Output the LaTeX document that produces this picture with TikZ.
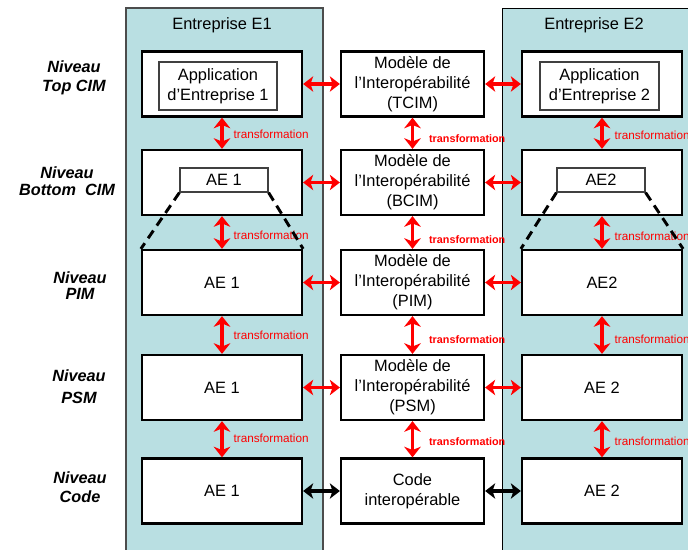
\documentclass[tikz,border=0pt]{standalone}
\usepackage{fontspec}
\setmainfont{Liberation Sans}
\usetikzlibrary{arrows.meta}
\definecolor{panel}{HTML}{B9DFE2}
\definecolor{tred}{HTML}{FF0000}
\begin{document}
\begin{tikzpicture}[x=0.75pt,y=-0.75pt,
  box/.style={draw=black, line width=1.7pt, fill=white, minimum width=120pt, minimum height=48.75pt, align=center, inner sep=0pt, font=\fontsize{12.3}{15}\selectfont},
  mbox/.style={box, minimum width=107.25pt},
  ibox/.style={draw=black!75, line width=0.9pt, fill=white, align=center, inner sep=0pt, font=\fontsize{12.3}{15}\selectfont},
  ptitle/.style={font=\fontsize{12.3}{15}\selectfont, inner sep=0pt},
  harrow/.style={draw=tred, line width=2.3pt, >={Stealth[length=7.5pt,width=11.5pt,inset=2pt]}, <->},
  varrow/.style={draw=tred, line width=2.4pt, >={Stealth[length=8pt,width=12.5pt,inset=2.5pt]}, <->},
  karrow/.style={harrow, draw=black},
  dashline/.style={draw=black, line width=2.2pt, dash pattern=on 7pt off 4.5pt},
  tlabel/.style={text=tred, anchor=west, inner sep=0pt, font=\fontsize{8.8}{10}\selectfont},
  tlabelb/.style={tlabel, font=\bfseries\fontsize{8.1}{10}\selectfont},
  niv/.style={align=center, inner sep=0pt, font=\bfseries\itshape\fontsize{12.2}{#1}\selectfont},
]
\useasboundingbox (0,0) rectangle (688,549);
\fill[white] (0,0) rectangle (688,549);

% panels
\filldraw[fill=panel, draw=black!70, line width=0.9pt] (126,8) rectangle (323,570);
\filldraw[fill=panel, draw=black, line width=0.6pt] (502,8) rectangle (710,570);
\node[ptitle] (T1) at (222,25) {Entreprise E1};
\node[ptitle] (T2) at (594,25) {Entreprise E2};

% level labels
\node[niv=14.25pt] (N1) at (74,77.5) {Niveau\\Top CIM};
\node[niv=13pt] (N2) at (67,181) {Niveau\\Bottom\ \ CIM};
\node[niv=12.5pt] (N3) at (80,285.5) {Niveau\\PIM};
\node[niv=16.5pt] (N4) at (79,387) {Niveau\\PSM};
\node[niv=14.25pt] (N5) at (80,487.5) {Niveau\\Code};

% enterprise 1
\node[box] (L1) at (222,84) {};
\node[ibox, minimum width=88.5pt, minimum height=36pt] (IL1) at (218,86) {Application\\d’Entreprise 1};
\node[box] (L2) at (222,182.5) {};
\node[ibox, minimum width=66pt, minimum height=18pt] (IL2) at (224,180) {AE 1};
\node[box] (L3) at (222,282.5) {AE 1};
\node[box] (L4) at (222,387.5) {AE 1};
\node[box] (L5) at (222,491) {AE 1};

% middle
\node[mbox] (M1) at (412.5,84) {Modèle de\\l’Interopérabilité\\(TCIM)};
\node[mbox] (M2) at (412.5,182.5) {Modèle de\\l’Interopérabilité\\(BCIM)};
\node[mbox] (M3) at (412.5,282.5) {Modèle de\\l’Interopérabilité\\(PIM)};
\node[mbox] (M4) at (412.5,387.5) {Modèle de\\l’Interopérabilité\\(PSM)};
\node[mbox] (M5) at (412.5,491) {Code\\interopérable};

% enterprise 2
\node[box] (R1) at (602,84) {};
\node[ibox, minimum width=89.25pt, minimum height=36pt] (IR1) at (599.5,86) {Application\\d’Entreprise 2};
\node[box] (R2) at (602,182.5) {};
\node[ibox, minimum width=66pt, minimum height=18pt] (IR2) at (601,180) {AE2};
\node[box] (R3) at (602,282.5) {AE2};
\node[box] (R4) at (602,387.5) {AE 2};
\node[box] (R5) at (602,491) {AE 2};

% horizontal arrows
\foreach \i in {1,2,3,4} {
  \draw[harrow] (L\i.east) -- (M\i.west);
  \draw[harrow] (M\i.east) -- (R\i.west);
}
\draw[karrow] (L5.east) -- (M5.west);
\draw[karrow] (M5.east) -- (R5.west);

% vertical arrows with labels
\draw[varrow] (L1.south) -- node[tlabel, xshift=7.5pt, yshift=-0.75pt] (tl1) {transformation} (L2.north);
\draw[varrow] (L2.south) -- node[tlabel, xshift=7.5pt, yshift=-2.25pt] (tl2) {transformation} (L3.north);
\draw[varrow] (L3.south) -- node[tlabel, xshift=7.5pt, yshift=0pt] (tl3) {transformation} (L4.north);
\draw[varrow] (L4.south) -- node[tlabel, xshift=7.5pt, yshift=1pt] (tl4) {transformation} (L5.north);

\draw[varrow] (M1.south) -- node[tlabelb, xshift=11.25pt, yshift=-3.75pt] (tm1) {transformation} (M2.north);
\draw[varrow] (M2.south) -- node[tlabelb, xshift=11.25pt, yshift=-5.25pt] (tm2) {transformation} (M3.north);
\draw[varrow] (M3.south) -- node[tlabelb, xshift=11.25pt, yshift=-3.4pt] (tm3) {transformation} (M4.north);
\draw[varrow] (M4.south) -- node[tlabelb, xshift=11.25pt, yshift=-1.9pt] (tm4) {transformation} (M5.north);

\draw[varrow] (R1.south) -- node[tlabel, xshift=8.25pt, yshift=-1.5pt] (tr1) {transformation} (R2.north);
\draw[varrow] (R2.south) -- node[tlabel, xshift=8.25pt, yshift=-3pt] (tr2) {transformation} (R3.north);
\draw[varrow] (R3.south) -- node[tlabel, xshift=8.25pt, yshift=-3.4pt] (tr3) {transformation} (R4.north);
\draw[varrow] (R4.south) -- node[tlabel, xshift=8.25pt, yshift=-1.9pt] (tr4) {transformation} (R5.north);

% dashed expansion lines
\draw[dashline] (IL2.south west) -- (L3.north west);
\draw[dashline] (IL2.south east) -- (L3.north east);
\draw[dashline] (IR2.south west) -- (R3.north west);
\draw[dashline] (IR2.south east) -- (R3.north east);
\end{tikzpicture}
\end{document}
